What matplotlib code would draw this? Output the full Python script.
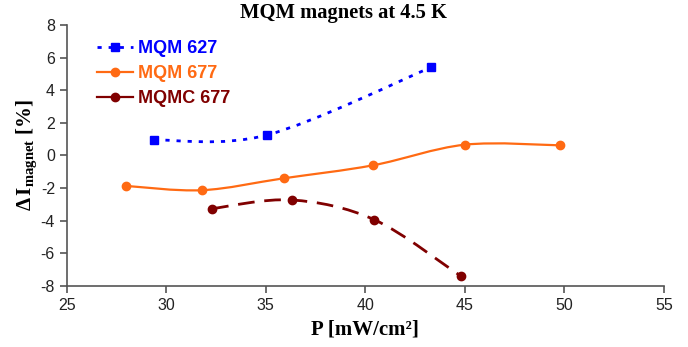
import numpy as np
import matplotlib.pyplot as plt
from matplotlib.path import Path
from matplotlib.patches import PathPatch
from matplotlib.lines import Line2D

# Data
p_627 = [29.4, 35.05, 43.3]
di_627 = [0.95, 1.25, 5.4]

p_677 = [28.0, 31.8, 35.9, 40.4, 45.0, 49.8]
di_677 = [-1.87, -2.13, -1.4, -0.6, 0.66, 0.62]

p_mqmc = [32.3, 36.3, 40.45, 44.8]
di_mqmc = [-3.26, -2.73, -3.94, -7.4]

plt.rcParams["axes.unicode_minus"] = False
plt.rcParams["mathtext.fontset"] = "custom"
plt.rcParams["mathtext.rm"] = "Liberation Serif:bold"
plt.rcParams["mathtext.bf"] = "Liberation Serif:bold"
plt.rcParams["mathtext.it"] = "Liberation Serif:bold"


# Smoothed line like a spreadsheet chart (Catmull-Rom drawn as Bezier path)
def smooth_path(x, y, t=1.0 / 6):
    pts = np.column_stack([x, y])
    n = len(pts)
    verts = [pts[0]]
    codes = [Path.MOVETO]
    for i in range(n - 1):
        p0 = pts[max(i - 1, 0)]
        p1 = pts[i]
        p2 = pts[i + 1]
        p3 = pts[min(i + 2, n - 1)]
        c1 = p1 + (p2 - p0) * t
        c2 = p2 - (p3 - p1) * t
        verts += [c1, c2, p2]
        codes += [Path.CURVE4] * 3
    return Path(verts, codes)


fig = plt.figure(figsize=(6.88, 3.47), dpi=100)
ax = fig.add_axes([0.097, 0.176, 0.868, 0.752])

# x, y, colour, marker, line style, legend line style, label
series = [
    (p_627, di_627, "#0000FF", "s", (0, (1.5, 2.5)), (0, (1.5, 2.5)), "MQM 627"),
    (p_677, di_677, "#FF6A13", "o", "-", "-", "MQM 677"),
    (p_mqmc, di_mqmc, "#800000", "o", (0, (6, 3.5)), "-", "MQMC 677"),
]

handles = []
for x, y, c, m, ls, leg_ls, lab in series:
    patch = PathPatch(smooth_path(x, y), fill=False, edgecolor=c,
                      linestyle=ls, linewidth=2 if ls != "-" else 1.6,
                      capstyle="butt")
    ax.add_patch(patch)
    ax.plot(x, y, linestyle="none", marker=m, color=c, markersize=6)
    handles.append(Line2D([], [], color=c, marker=m, linestyle=leg_ls,
                          linewidth=2 if leg_ls != "-" else 1.6,
                          markersize=6, label=lab))

ax.set_xlim(25, 55)
ax.set_ylim(-8, 8)
ax.set_xticks(range(25, 56, 5))
ax.set_yticks(range(-8, 9, 2))

for s in ["top", "right"]:
    ax.spines[s].set_visible(False)
for s in ["left", "bottom"]:
    ax.spines[s].set_color("#555555")
    ax.spines[s].set_linewidth(1.2)
ax.tick_params(colors="#555555", labelcolor="#222222", labelsize=11.5,
               length=5, width=1.2)
for lbl in ax.get_xticklabels() + ax.get_yticklabels():
    lbl.set_family("Liberation Sans")

fig.suptitle("MQM magnets at 4.5 K", x=0.5, y=0.99, family="Liberation Serif",
             fontweight="bold", fontsize=14.8)
ax.set_xlabel("P [mW/cm²]", family="Liberation Serif",
              fontweight="bold", fontsize=15, labelpad=5)
ax.set_ylabel(r"$\Delta\,\mathrm{I}_{\mathrm{magnet}}$ [%]",
              family="Liberation Serif", fontweight="bold", fontsize=15,
              labelpad=1)

ax.legend(handles=handles, loc="upper left", bbox_to_anchor=(0.023, 1.005),
          frameon=False, labelcolor="linecolor", handlelength=2.0,
          handletextpad=0.3, labelspacing=0.45,
          prop={"family": "Liberation Sans", "weight": "bold", "size": 13})

fig.savefig("out.png", dpi=100)
